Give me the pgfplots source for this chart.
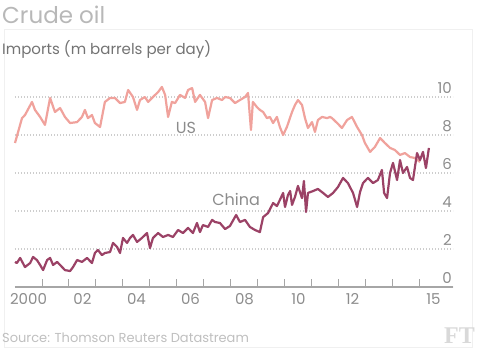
\documentclass[border=0pt]{standalone}
\usepackage{pgfplots}
\pgfplotsset{compat=1.18}
\usepackage{fontspec}
\setmainfont{Poppins}
\definecolor{uscol}{RGB}{240,162,156}
\definecolor{cncol}{RGB}{155,66,102}
\definecolor{lab}{RGB}{140,140,140}
\definecolor{gridc}{RGB}{205,205,205}
\begin{document}
\begin{tikzpicture}
\path[use as bounding box] (0,0) rectangle (477pt,-352pt);
\draw[black!6, line width=1pt] (4pt,-30pt) rectangle (472pt,-348pt);
\node[anchor=base west, inner sep=0pt, text=black!28, font=\fontsize{23}{28}\selectfont] at (2pt,-24pt) {Crude oil};
\node[anchor=base west, inner sep=0pt, text=black!55, font=\fontsize{15}{18}\selectfont] at (2pt,-55pt) {Imports (m barrels per day)};
\node[anchor=base west, inner sep=0pt, text=black!25, font=\fontsize{13}{16}\selectfont] at (2pt,-343pt) {Source: Thomson Reuters Datastream};
\node[anchor=base east, inner sep=0pt, text=black!15, font=\fontspec{Liberation Serif}\bfseries\fontsize{24}{28}\selectfont] at (475pt,-344pt) {FT};
\begin{axis}[
  at={(15pt,-287pt)}, anchor=south west,
  scale only axis, width=438pt, height=203.3pt,
  xmin=2000, xmax=2016.222, ymin=0, ymax=10.7,
  axis x line*=bottom, axis y line*=right,
  x axis line style={draw=black!35, line width=1.2pt, -},
  y axis line style={draw=none},
  xtick={2001,...,2015}, xticklabels={},
  extra x ticks={2000.5,2002.5,2004.5,2006.5,2008.5,2010.5,2012.5,2015.5},
  extra x tick labels={2000,02,04,06,08,10,12,15},
  extra x tick style={major tick length=0pt, grid=none},
  tick align=inside, major tick length=8pt,
  xtick style={draw=black!35, line width=1pt},
  ytick={0,2,4,6,8,10}, ytick style={draw=none},
  ymajorgrids, grid style={draw=gridc, line width=1.3pt, dash pattern=on 1.3pt off 1.7pt},
  yticklabel pos=right,
  yticklabel style={anchor=south east, inner sep=1pt, xshift=0pt, yshift=2pt},
  /pgf/number format/assume math mode=true,
  ticklabel style={text=lab, font=\fontsize{15}{18}\selectfont},
  xticklabel style={yshift=-3pt},
  clip=false,
]
\addplot[uscol, line width=2.2pt, line join=round] coordinates {
(2000.00,7.58)(2000.26,8.89)(2000.37,9.05)(2000.63,9.74)(2000.74,9.32)(2000.93,8.95)
(2001.11,8.53)(2001.30,9.95)(2001.48,9.21)(2001.67,9.42)(2001.85,8.95)(2002.04,8.63)
(2002.30,8.68)(2002.48,8.95)(2002.59,9.32)(2002.70,8.89)(2002.85,9.05)(2002.96,8.63)
(2003.15,8.42)(2003.33,9.74)(2003.52,9.95)(2003.70,9.95)(2003.89,9.68)(2004.07,9.74)
(2004.19,10.37)(2004.37,10.00)(2004.52,9.32)(2004.63,9.84)(2004.81,10.00)(2004.93,9.74)
(2005.11,10.00)(2005.30,10.26)(2005.44,10.53)(2005.56,10.11)(2005.67,8.95)(2005.81,9.74)
(2005.93,9.68)(2006.11,10.11)(2006.30,9.95)(2006.41,10.37)(2006.56,10.47)(2006.67,9.74)
(2006.85,10.11)(2007.04,9.74)(2007.15,8.89)(2007.30,9.84)(2007.48,9.95)(2007.67,9.84)
(2007.78,10.00)(2007.96,9.95)(2008.15,9.68)(2008.33,9.84)(2008.52,10.00)(2008.63,10.21)
(2008.74,8.26)(2008.81,9.74)(2008.96,9.47)(2009.07,9.32)(2009.19,9.21)(2009.33,8.89)
(2009.44,8.95)(2009.56,8.63)(2009.70,8.95)(2009.81,8.42)(2009.93,8.00)(2010.07,8.42)
(2010.26,9.21)(2010.37,9.58)(2010.48,9.84)(2010.63,9.58)(2010.74,8.89)(2010.85,8.37)
(2011.00,8.68)(2011.11,8.16)(2011.22,8.79)(2011.37,8.95)(2011.56,8.89)(2011.67,8.95)
(2011.74,8.89)(2011.93,8.63)(2012.11,8.37)(2012.30,8.79)(2012.48,8.95)(2012.67,8.42)
(2012.85,8.00)(2012.96,7.58)(2013.15,7.11)(2013.33,7.37)(2013.52,7.84)(2013.70,7.58)
(2013.89,7.32)(2014.07,7.21)(2014.26,6.95)(2014.44,7.05)(2014.63,6.84)(2014.81,6.79)
(2015.00,6.58)
};
\addplot[cncol, line width=2.2pt, line join=round] coordinates {
(2000.00,1.32)(2000.07,1.26)(2000.19,1.53)(2000.37,1.05)(2000.56,1.26)(2000.67,1.58)
(2000.81,1.42)(2000.93,1.16)(2001.04,0.89)(2001.19,1.42)(2001.30,1.53)(2001.41,1.16)
(2001.56,1.32)(2001.67,1.16)(2001.85,0.89)(2002.04,0.84)(2002.15,1.05)(2002.30,1.42)
(2002.48,1.32)(2002.67,1.53)(2002.85,1.26)(2002.96,1.79)(2003.07,1.95)(2003.22,1.68)
(2003.33,1.79)(2003.52,1.84)(2003.63,2.32)(2003.78,2.11)(2003.89,1.79)(2004.00,2.58)
(2004.15,2.32)(2004.26,2.58)(2004.37,2.74)(2004.52,2.37)(2004.70,2.58)(2004.89,2.84)
(2005.00,2.05)(2005.11,2.58)(2005.30,2.84)(2005.48,2.63)(2005.67,2.74)(2005.85,2.63)
(2006.04,3.00)(2006.22,2.84)(2006.41,3.11)(2006.59,2.84)(2006.74,3.37)(2006.85,2.89)
(2006.96,3.26)(2007.15,3.16)(2007.30,3.53)(2007.41,3.42)(2007.59,3.37)(2007.78,3.05)
(2007.96,3.21)(2008.19,3.79)(2008.33,3.42)(2008.52,3.53)(2008.70,3.16)(2008.89,3.00)
(2009.07,2.89)(2009.19,3.68)(2009.37,3.89)(2009.56,4.42)(2009.70,4.26)(2009.81,4.58)
(2009.93,4.95)(2010.00,4.21)(2010.11,4.84)(2010.19,5.05)(2010.26,4.32)(2010.37,4.74)
(2010.48,5.32)(2010.63,4.68)(2010.70,5.58)(2010.78,3.95)(2010.85,4.95)(2011.04,5.05)
(2011.22,5.16)(2011.41,4.95)(2011.59,4.74)(2011.78,4.95)(2011.96,5.26)(2012.15,5.74)
(2012.33,5.47)(2012.52,4.95)(2012.67,4.21)(2012.78,5.00)(2012.89,5.47)(2013.07,5.74)
(2013.26,5.47)(2013.44,5.63)(2013.59,6.16)(2013.67,4.95)(2013.78,4.68)(2013.89,6.00)
(2014.00,6.53)(2014.15,5.63)(2014.26,6.68)(2014.37,6.00)(2014.52,6.32)(2014.63,5.74)
(2014.74,5.63)(2014.89,7.05)(2015.00,6.68)(2015.11,7.11)(2015.22,6.26)(2015.33,7.32)
};
\node[text=lab, font=\fontsize{16}{18}\selectfont] at (axis cs:2006.33,8.37) {US};
\node[text=lab, font=\fontsize{16}{18}\selectfont] at (axis cs:2008.19,4.58) {China};
\end{axis}
\end{tikzpicture}
\end{document}
